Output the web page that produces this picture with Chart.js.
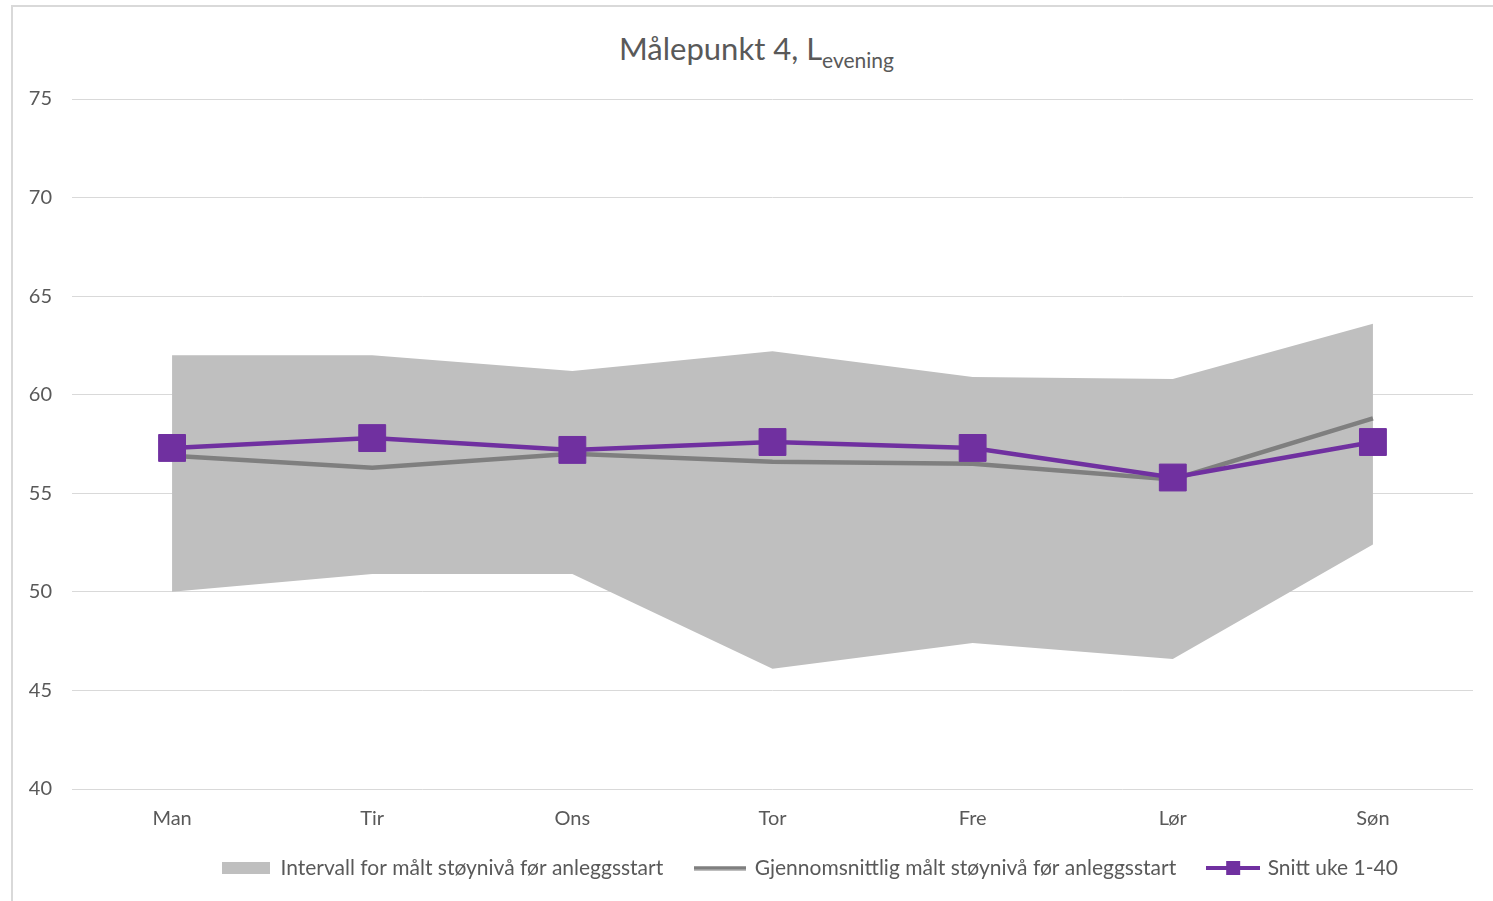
<!DOCTYPE html>
<html><head><meta charset="utf-8">
<script src="https://cdn.jsdelivr.net/npm/chart.js@4/dist/chart.umd.min.js"></script>
<style>
html,body{margin:0;padding:0;background:#fff;overflow:hidden;}
#wrap{position:relative;width:1493px;height:901px;overflow:hidden;}
#frame{position:absolute;left:11px;top:5px;width:1520px;height:1000px;border:2px solid #d9d9d9;box-sizing:border-box;}
#title{position:absolute;left:0;width:1513px;top:33px;text-align:center;font-family:Lato,sans-serif;font-size:31px;line-height:31px;color:#595959;white-space:nowrap;}
#title sub{font-size:21px;vertical-align:-8px;line-height:0;}
canvas{position:absolute;left:0;top:0;}
</style></head>
<body><div id="wrap"><div id="frame"></div>
<div id="title">Målepunkt 4, L<sub>evening</sub></div>
<canvas id="c" width="1493" height="901"></canvas></div>
<script>
const categories = ['Man','Tir','Ons','Tor','Fre','Lør','Søn'];
const intervalUpper = [62.0, 62.0, 61.2, 62.2, 60.9, 60.8, 63.6];
const intervalLower = [50.0, 50.9, 50.9, 46.1, 47.4, 46.6, 52.4];
const avgBefore = [56.9, 56.3, 57.0, 56.6, 56.5, 55.7, 58.8];
const snittUke = [57.3, 57.8, 57.2, 57.6, 57.3, 55.8, 57.6];
const yTicks = [40, 45, 50, 55, 60, 65, 70, 75];
const seriesNames = ['Intervall for målt støynivå før anleggsstart','Gjennomsnittlig målt støynivå før anleggsstart','Snitt uke 1-40'];

const TXT = '#595959';
const FONT = 'Lato, sans-serif';

function mk(w,h,draw){const c=document.createElement('canvas');c.width=w;c.height=h;draw(c.getContext('2d'));return c;}
const icoBand = mk(48,12,g=>{g.fillStyle='#bfbfbf';g.fillRect(0,0,48,12);});
const icoAvg = mk(52,5,g=>{g.fillStyle='#7f7f7f';g.fillRect(0,0.5,52,4);});
const icoSnitt = mk(54,16,g=>{g.fillStyle='#7030a0';g.fillRect(0,6,54,4);g.fillRect(20,1,14,14);});

new Chart(document.getElementById('c'), {
  type: 'line',
  data: {
    labels: categories,
    datasets: [
      {label: seriesNames[0], data: intervalUpper, fill: '+1', backgroundColor: '#bfbfbf', borderColor: 'transparent', borderWidth: 0, pointRadius: 0, order: 3, tension: 0},
      {label: seriesNames[0]+' (nedre)', data: intervalLower, fill: false, borderColor: 'transparent', borderWidth: 0, pointRadius: 0, order: 4, tension: 0},
      {label: seriesNames[1], data: avgBefore, fill: false, borderColor: '#7f7f7f', borderWidth: 4.5, pointRadius: 0, order: 2, tension: 0},
      {label: seriesNames[2], data: snittUke, fill: false, borderColor: '#7030a0', backgroundColor: '#7030a0', borderWidth: 4.5, pointStyle: 'rect', pointRadius: 19, pointHoverRadius: 19, pointBorderWidth: 1, pointBorderColor: '#7030a0', order: 1, tension: 0}
    ]
  },
  options: {
    responsive: false, animation: false, maintainAspectRatio: false,
    layout: {padding: {top: 99, right: 20, bottom: 0, left: 0}},
    scales: {
      x: {
        offset: true,
        grid: {display: false, drawTicks: false},
        border: {display: false},
        ticks: {color: TXT, font: {family: FONT, size: 20}, padding: 18, maxRotation: 0},
        afterFit: s => { s.height = 48; }
      },
      y: {
        min: 40, max: 75,
        afterBuildTicks: s => { s.ticks = yTicks.map(v => ({value: v})); },
        grid: {color: '#d9d9d9', lineWidth: 1, drawTicks: false},
        border: {display: false},
        ticks: {color: TXT, font: {family: FONT, size: 20}, padding: 20},
        afterFit: s => { s.width = 72; }
      }
    },
    plugins: {
      tooltip: {enabled: false},
      title: {display: false},
      legend: {
        position: 'bottom', align: 'start',
        labels: {
          usePointStyle: true, pointStyleWidth: 48, padding: 33,
          color: TXT, font: {family: FONT, size: 21},
          generateLabels: () => [
            {text: seriesNames[0], pointStyle: icoBand, fillStyle: '#bfbfbf', strokeStyle: '#bfbfbf', lineWidth: 0, fontColor: TXT, hidden: false, datasetIndex: 0},
            {text: seriesNames[1], pointStyle: icoAvg, fillStyle: '#7f7f7f', strokeStyle: '#7f7f7f', lineWidth: 0, fontColor: TXT, hidden: false, datasetIndex: 2},
            {text: seriesNames[2], pointStyle: icoSnitt, fillStyle: '#7030a0', strokeStyle: '#7030a0', lineWidth: 0, fontColor: TXT, hidden: false, datasetIndex: 3}
          ]
        }
      }
    }
  },
  plugins: [{
    id: 'legendShift',
    afterLayout(chart) {
      const lg = chart.legend; if (!lg) return;
      const w = lg.right - lg.left, h = lg.bottom - lg.top;
      lg.left = 222 - lg.options.labels.padding;
      lg.right = lg.left + w;
      lg.top = 868 - lg.options.labels.padding - 10.5;
      lg.bottom = lg.top + h;
    }
  }]
});
</script></body></html>
